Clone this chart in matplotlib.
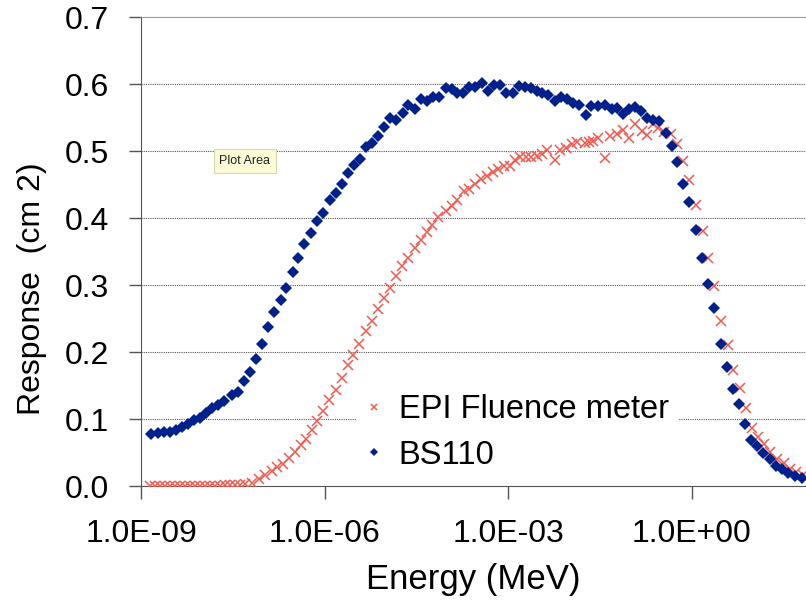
import numpy as np
import matplotlib.pyplot as plt
from matplotlib.ticker import FixedLocator, FuncFormatter

plt.rcParams['font.family'] = ['Liberation Sans', 'DejaVu Sans']

# BS110 response, log10(E / MeV) and response (cm^2)
bs110_log_e = [
    -8.83, -8.73, -8.62, -8.53, -8.43, -8.33, -8.23, -8.13, -8.03, -7.93,
    -7.84, -7.74, -7.64, -7.52, -7.42, -7.32, -7.22, -7.12, -7.02, -6.92,
    -6.82, -6.72, -6.63, -6.52, -6.43, -6.34, -6.23, -6.13, -6.02, -5.91,
    -5.81, -5.72, -5.61, -5.52, -5.42, -5.32, -5.23, -5.13, -5.03, -4.93,
    -4.83, -4.72, -4.63, -4.52, -4.43, -4.33, -4.23, -4.13, -4.02, -3.92,
    -3.83, -3.74, -3.64, -3.54, -3.43, -3.33, -3.23, -3.13, -3.03, -2.92,
    -2.82, -2.73, -2.63, -2.53, -2.44, -2.35, -2.24, -2.13, -2.04, -1.94,
    -1.84, -1.73, -1.64, -1.53, -1.42, -1.31, -1.22, -1.12, -1.02, -0.93,
    -0.83, -0.73, -0.63, -0.53, -0.42, -0.33, -0.24, -0.14, -0.05, 0.07,
    0.16, 0.27, 0.37, 0.47, 0.57, 0.67, 0.77, 0.87, 0.96, 1.06,
    1.17, 1.27, 1.38, 1.47, 1.58, 1.69, 1.80,
]
bs110_resp = [
    0.077, 0.079, 0.081, 0.081, 0.084, 0.088, 0.093, 0.098, 0.102, 0.109,
    0.116, 0.121, 0.127, 0.136, 0.141, 0.156, 0.170, 0.190, 0.212, 0.237,
    0.260, 0.277, 0.295, 0.319, 0.341, 0.361, 0.377, 0.396, 0.407, 0.427,
    0.438, 0.451, 0.467, 0.479, 0.488, 0.506, 0.512, 0.523, 0.536, 0.550,
    0.546, 0.557, 0.569, 0.562, 0.577, 0.575, 0.580, 0.581, 0.594, 0.592,
    0.586, 0.586, 0.595, 0.596, 0.602, 0.590, 0.598, 0.598, 0.587, 0.587,
    0.597, 0.596, 0.594, 0.590, 0.586, 0.584, 0.575, 0.581, 0.578, 0.572,
    0.569, 0.553, 0.567, 0.567, 0.569, 0.562, 0.564, 0.555, 0.562, 0.565,
    0.560, 0.549, 0.546, 0.545, 0.527, 0.507, 0.484, 0.451, 0.424, 0.382,
    0.340, 0.301, 0.266, 0.212, 0.178, 0.145, 0.122, 0.093, 0.069, 0.059,
    0.049, 0.040, 0.030, 0.026, 0.019, 0.015, 0.012,
]

# EPI Fluence meter response
epi_log_e = [
    -8.85, -8.77, -8.69, -8.61, -8.53, -8.44, -8.36, -8.28, -8.20, -8.12,
    -8.04, -7.95, -7.87, -7.79, -7.71, -7.63, -7.55, -7.46, -7.38, -7.30,
    -7.19, -7.08, -6.97, -6.86, -6.77, -6.68, -6.58, -6.48, -6.39, -6.30,
    -6.21, -6.12, -6.02, -5.92, -5.82, -5.72, -5.62, -5.53, -5.43, -5.33,
    -5.23, -5.13, -5.03, -4.93, -4.83, -4.73, -4.63, -4.52, -4.43, -4.33,
    -4.24, -4.14, -4.02, -3.92, -3.83, -3.73, -3.64, -3.54, -3.44, -3.35,
    -3.25, -3.16, -3.07, -2.97, -2.89, -2.80, -2.71, -2.62, -2.53, -2.44,
    -2.36, -2.24, -2.15, -2.06, -1.96, -1.87, -1.75, -1.68, -1.61, -1.53,
    -1.42, -1.34, -1.22, -1.12, -1.03, -0.93, -0.81, -0.73, -0.63, -0.55,
    -0.45, -0.34, -0.24, -0.14, -0.04, 0.07, 0.18, 0.27, 0.37, 0.48,
    0.59, 0.68, 0.79, 0.89, 0.98, 1.08, 1.18, 1.28, 1.39, 1.50,
    1.61, 1.71, 1.82,
]
epi_resp = [
    0.000, 0.000, 0.000, 0.000, 0.000, 0.000, 0.000, 0.000, 0.000, 0.000,
    0.000, 0.000, 0.000, 0.000, 0.000, 0.001, 0.001, 0.002, 0.002, 0.003,
    0.005, 0.010, 0.016, 0.022, 0.028, 0.033, 0.042, 0.051, 0.061, 0.070,
    0.084, 0.097, 0.112, 0.128, 0.144, 0.161, 0.180, 0.196, 0.212, 0.231,
    0.247, 0.264, 0.280, 0.295, 0.313, 0.328, 0.341, 0.355, 0.367, 0.379,
    0.390, 0.401, 0.411, 0.418, 0.427, 0.440, 0.443, 0.451, 0.458, 0.463,
    0.469, 0.473, 0.477, 0.478, 0.486, 0.491, 0.491, 0.491, 0.493, 0.496,
    0.501, 0.487, 0.502, 0.505, 0.510, 0.514, 0.512, 0.514, 0.515, 0.520,
    0.490, 0.522, 0.525, 0.532, 0.520, 0.540, 0.530, 0.524, 0.540, 0.535,
    0.528, 0.525, 0.510, 0.485, 0.457, 0.420, 0.380, 0.340, 0.298, 0.247,
    0.210, 0.173, 0.146, 0.117, 0.087, 0.073, 0.062, 0.051, 0.041, 0.034,
    0.026, 0.021, 0.016,
]

x_ticks = [1e-9, 1e-6, 1e-3, 1e0]
y_ticks = [0.0, 0.1, 0.2, 0.3, 0.4, 0.5, 0.6, 0.7]

fig = plt.figure(figsize=(8.06, 6), dpi=100)
ax = fig.add_axes([141 / 806, 1 - 486 / 600, 665 / 806, 469 / 600])

ax.plot(10 ** np.array(epi_log_e), epi_resp, linestyle='none', marker='x',
        markersize=7, markeredgewidth=1.1, color='#f05a50',
        label='EPI Fluence meter', zorder=4)
ax.plot(10 ** np.array(bs110_log_e), bs110_resp, linestyle='none', marker='D',
        markersize=6, color='#00208c', markeredgewidth=0,
        label='BS110', zorder=5)

ax.set_xscale('log')
ax.set_xlim(1e-9, 10 ** 1.866)
ax.set_ylim(0, 0.7)
ax.xaxis.set_major_locator(FixedLocator(x_ticks))
ax.xaxis.set_minor_locator(FixedLocator([]))
ax.xaxis.set_major_formatter(FuncFormatter(lambda v, pos: '{:.1E}'.format(v)))
ax.set_yticks(y_ticks)
ax.yaxis.set_major_formatter(FuncFormatter(lambda v, pos: '{:.1f}'.format(v)))

for y in y_ticks[1:-1]:
    ax.axhline(y, color='#555555', linestyle=(0, (1, 1)), linewidth=0.8, zorder=1)

ax.spines['right'].set_visible(False)
ax.spines['top'].set_color('#999999')
ax.spines['left'].set_color('#555555')
ax.spines['bottom'].set_color('#555555')
ax.tick_params(axis='both', direction='out', length=9, width=1,
               color='#555555', labelsize=23)
ax.tick_params(axis='x', pad=15)
ax.tick_params(axis='y', pad=14)

ax.set_xlabel('Energy (MeV)', fontsize=25, labelpad=10)
ax.set_ylabel('Response  (cm 2)', fontsize=23)
ax.yaxis.set_label_coords(-0.142, 0.42)

leg = ax.legend(loc='upper left', bbox_to_anchor=(340 / 806, 1 - 368 / 600),
                bbox_transform=fig.transFigure, fontsize=23.5,
                frameon=True, fancybox=False, edgecolor='none',
                facecolor='white', framealpha=1, handlelength=0.5,
                handletextpad=0.5, labelspacing=0.45, borderpad=0.3,
                markerscale=0.7)
leg.set_zorder(3)

fig.text(245 / 806, 1 - 161 / 600, 'Plot Area', fontsize=9,
         ha='center', va='center', color='#222222',
         bbox=dict(boxstyle='square,pad=0.45', facecolor='#fdfbd6',
                   edgecolor='#d8d6b0', linewidth=0.8))

fig.savefig('out.png', dpi=100)
